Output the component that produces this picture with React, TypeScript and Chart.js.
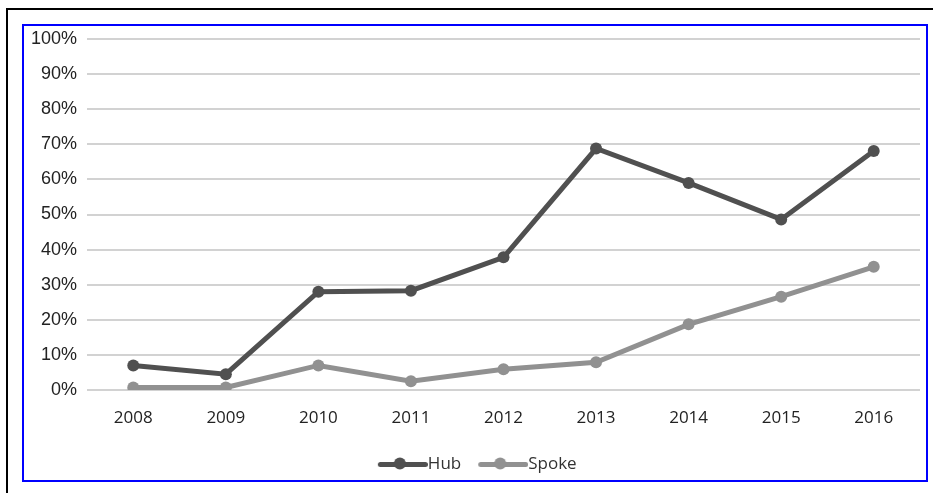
import React, { useEffect, useRef } from "react";
import { Chart, registerables } from "chart.js";

Chart.register(...registerables);

const years = ["2008", "2009", "2010", "2011", "2012", "2013", "2014", "2015", "2016"];
const hubValues = [7, 4.5, 28, 28.3, 37.8, 68.8, 59, 48.6, 68.1];
const spokeValues = [0.7, 0.7, 7, 2.5, 5.9, 7.9, 18.7, 26.6, 35.1];
const seriesNames = ["Hub", "Spoke"];
const seriesColors = ["#505050", "#919191"];

function makeMarker(color: string): HTMLCanvasElement {
  const c = document.createElement("canvas");
  const blank = 16;
  c.width = 50 + blank;
  c.height = 14;
  const ctx = c.getContext("2d")!;
  ctx.strokeStyle = color;
  ctx.lineWidth = 5;
  ctx.lineCap = "round";
  ctx.beginPath();
  ctx.moveTo(blank + 2.5, 7.5);
  ctx.lineTo(blank + 47.5, 7.5);
  ctx.stroke();
  ctx.fillStyle = color;
  ctx.beginPath();
  ctx.arc(blank + 22, 6.5, 6, 0, Math.PI * 2);
  ctx.fill();
  return c;
}

export default function App() {
  const ref = useRef<HTMLCanvasElement | null>(null);
  useEffect(() => {
    if (!ref.current) return;
    const markers = seriesColors.map(makeMarker);
    const chart = new Chart(ref.current, {
      type: "line",
      data: {
        labels: years,
        datasets: [hubValues, spokeValues].map((vals, i) => ({
          label: seriesNames[i],
          data: vals,
          borderColor: seriesColors[i],
          backgroundColor: seriesColors[i],
          pointBackgroundColor: seriesColors[i],
          pointBorderColor: seriesColors[i],
          borderWidth: 5,
          pointRadius: 6,
          pointBorderWidth: 0,
          tension: 0,
        })),
      },
      options: {
        animation: false,
        responsive: false,
        maintainAspectRatio: false,
        layout: { padding: { top: 13, right: 3, left: 0, bottom: -2.5 } },
        plugins: {
          tooltip: { enabled: false },
          legend: {
            position: "bottom",
            align: "center",
            labels: {
              usePointStyle: true,
              pointStyleWidth: 49,
              padding: 9.5,
              color: "#333333",
              font: { family: "'Open Sans'", size: 17 },
              generateLabels: (ch: any) =>
                ch.data.datasets.map((ds: any, i: number) => ({
                  text: ds.label,
                  fillStyle: seriesColors[i],
                  strokeStyle: seriesColors[i],
                  lineWidth: 0,
                  pointStyle: markers[i],
                  fontColor: "#333333",
                  hidden: false,
                  datasetIndex: i,
                })),
            },
          },
        },
        scales: {
          x: {
            offset: true,
            grid: { display: false, drawTicks: false },
            border: { display: false },
            ticks: {
              padding: 17.5,
              color: "#222222",
              font: { family: "'Open Sans'", size: 17 },
              maxRotation: 0,
            },
            afterFit: (s: any) => {
              s.height = 56;
              s.paddingLeft = 0;
              s.paddingRight = 0;
            },
          },
          y: {
            min: 0,
            max: 100,
            grid: { color: "#d2d2d2", lineWidth: 2, drawTicks: false },
            border: { display: false },
            ticks: {
              stepSize: 10,
              padding: 10,
              color: "#222222",
              font: { family: "'Liberation Sans', Arial", size: 18 },
              callback: (v: any) => v + "%",
            },
            afterFit: (s: any) => {
              s.width = 63;
              s.paddingTop = 0;
              s.paddingBottom = 0;
            },
          },
        },
      },
    });
    return () => chart.destroy();
  }, []);

  return (
    <div>
      <div
        style={{
          position: "absolute",
          left: 6,
          top: 8,
          width: 927,
          height: 485,
          borderTop: "2px solid #000",
          borderLeft: "2px solid #000",
          boxSizing: "border-box",
        }}
      />
      <div
        style={{
          position: "absolute",
          left: 22,
          top: 24,
          width: 906,
          height: 458,
          border: "2px solid #0000ff",
          boxSizing: "border-box",
          background: "#ffffff",
        }}
      >
        <canvas ref={ref} width={902} height={454} style={{ display: "block", width: 902, height: 454 }} />
      </div>
    </div>
  );
}
